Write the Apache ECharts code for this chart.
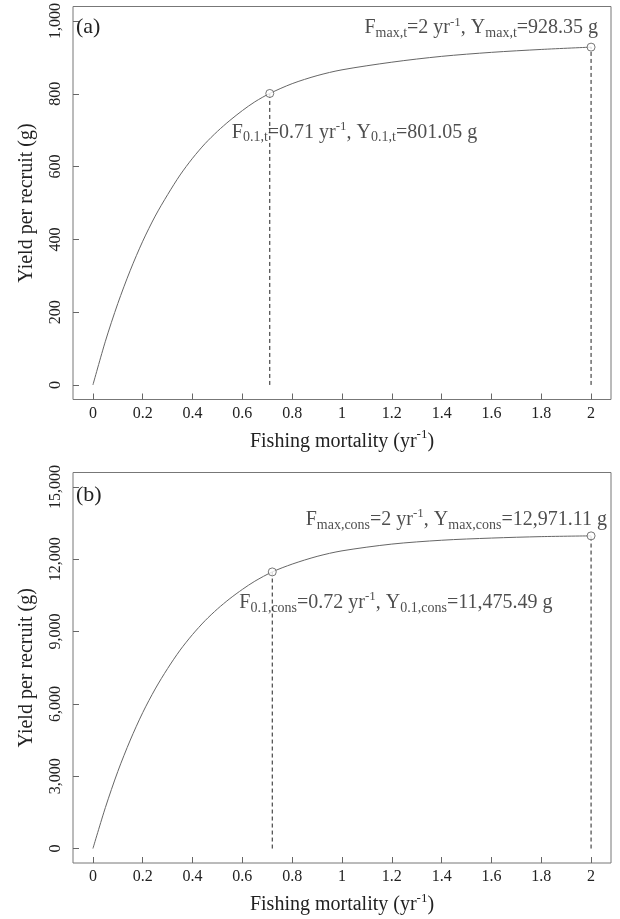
<!DOCTYPE html>
<html>
<head>
<meta charset="utf-8">
<script src="https://cdn.jsdelivr.net/npm/echarts@6/dist/echarts.min.js"></script>
<style>html,body{margin:0;padding:0;background:#fff}#c{width:620px;height:919px}</style>
</head>
<body>
<div id="c"></div>
<script>
// ---- data ----
const fishingMortality = [0, 0.05, 0.1, 0.15, 0.2, 0.25, 0.3, 0.35, 0.4, 0.45, 0.5, 0.55, 0.6, 0.65, 0.71, 0.8, 0.9, 1.0, 1.2, 1.4, 1.6, 1.8, 2.0];
const yieldA = [0, 120, 224, 315, 395, 464, 523, 577, 623, 663, 697, 727, 754, 778, 801.05, 828, 850, 866, 887, 903, 914, 922, 928.35];
const fishingMortalityB = [0, 0.05, 0.1, 0.15, 0.2, 0.25, 0.3, 0.35, 0.4, 0.45, 0.5, 0.55, 0.6, 0.65, 0.72, 0.8, 0.9, 1.0, 1.2, 1.4, 1.6, 1.8, 2.0];
const yieldB = [0, 1700, 3200, 4500, 5640, 6620, 7470, 8230, 8880, 9450, 9940, 10370, 10750, 11090, 11475.49, 11800, 12120, 12350, 12630, 12790, 12880, 12940, 12971.11];

const refA = { f01: 0.71, y01: 801.05, fmax: 2, ymax: 928.35 };
const refB = { f01: 0.72, y01: 11475.49, fmax: 2, ymax: 12971.11 };

const xTicks = [0, 0.2, 0.4, 0.6, 0.8, 1, 1.2, 1.4, 1.6, 1.8, 2];
const yTicksA = [0, 200, 400, 600, 800, 1000];
const yTicksB = [0, 3000, 6000, 9000, 12000, 15000];

const panelLabels = ['(a)', '(b)'];
const xTitle = 'Fishing mortality (yr{sup|-1})';
const yTitle = 'Yield per recruit (g)';

// ---- styling ----
const FONT = 'Liberation Serif';
const TXT = '#222';
const AX = '#666';

const rich = {
  sub: { fontFamily: FONT, fontSize: 14, lineHeight: 14, padding: [10, 0, 0, 0], color: TXT },
  sup: { fontFamily: FONT, fontSize: 13, lineHeight: 13, padding: [0, 0, 12, 0], color: TXT }
};

function fmtNum(v) {
  return Number(v).toLocaleString('en-US', { minimumFractionDigits: 2, maximumFractionDigits: 2 });
}
function xFmt(v) { return String(+Number(v).toFixed(1)); }
function yFmt(v) { return Number(v).toLocaleString('en-US'); }

function makeX(gridIndex) {
  return {
    type: 'value', gridIndex, min: -0.08, max: 2.08,
    axisLine: { show: false, onZero: false },
    axisTick: { show: true, inside: true, length: 6, lineStyle: { color: AX }, customValues: xTicks },
    axisLabel: { customValues: xTicks, formatter: xFmt, fontFamily: FONT, fontSize: 16, color: TXT, margin: 6 },
    splitLine: { show: false },
    name: xTitle, nameLocation: 'middle', nameGap: 30,
    nameTextStyle: { fontFamily: FONT, fontSize: 20, color: TXT, lineHeight: 24, rich: { sup: { fontFamily: FONT, fontSize: 13, lineHeight: 13, padding: [0, 0, 13, 0], color: TXT } } }
  };
}
function makeY(gridIndex, ticks, min, max) {
  return {
    type: 'value', gridIndex, min, max,
    axisLine: { show: false, onZero: false },
    axisTick: { show: true, inside: true, length: 6, lineStyle: { color: AX }, customValues: ticks },
    axisLabel: { customValues: ticks, formatter: yFmt, rotate: 90, fontFamily: FONT, fontSize: 16, color: TXT, margin: 9 },
    splitLine: { show: false },
    name: yTitle, nameLocation: 'middle', nameGap: 36,
    nameTextStyle: { fontFamily: FONT, fontSize: 20, color: TXT }
  };
}

function curve(xs, ys, idx) {
  return {
    type: 'line', xAxisIndex: idx, yAxisIndex: idx, smooth: 0.3, showSymbol: false, silent: true,
    data: xs.map((x, i) => [x, ys[i]]),
    lineStyle: { color: '#666', width: 1 }, z: 2
  };
}
function dashed(f, y, idx) {
  return {
    type: 'line', xAxisIndex: idx, yAxisIndex: idx, showSymbol: false, silent: true,
    data: [[f, 0], [f, y]],
    lineStyle: { color: '#222', width: 1, type: [4, 3] }, z: 1
  };
}
function markers(ref, idx, sub1, subMax, offs) {
  return {
    type: 'scatter', xAxisIndex: idx, yAxisIndex: idx, symbol: 'circle', symbolSize: 8, z: 5,
    itemStyle: { color: '#fff', borderColor: '#555', borderWidth: 1 },
    data: [
      { value: [ref.f01, ref.y01], label: { show: true, position: 'inside', align: 'left', verticalAlign: 'middle', offset: offs[0],
          formatter: 'F{sub|' + sub1 + '}=' + ref.f01 + ' yr{sup|-1}, Y{sub|' + sub1 + '}=' + fmtNum(ref.y01) + ' g' } },
      { value: [ref.fmax, ref.ymax], label: { show: true, position: 'inside', align: 'right', verticalAlign: 'middle', offset: offs[1],
          formatter: 'F{sub|' + subMax + '}=' + ref.fmax + ' yr{sup|-1}, Y{sub|' + subMax + '}=' + fmtNum(ref.ymax) + ' g' } }
    ],
    label: { fontFamily: FONT, fontSize: 20, lineHeight: 28, color: TXT, rich }
  };
}

const chart = echarts.init(document.getElementById('c'), null, { renderer: 'canvas' });
chart.setOption({
  animation: false,
  backgroundColor: '#fff',
  title: [
    { text: panelLabels[0], left: 76, top: 16, padding: 0, textStyle: { fontFamily: FONT, fontSize: 22, fontWeight: 'normal', color: TXT } },
    { text: panelLabels[1], left: 76, top: 484, padding: 0, textStyle: { fontFamily: FONT, fontSize: 22, fontWeight: 'normal', color: TXT } }
  ],
  grid: [
    { left: 73, right: 9, top: 6.5, height: 393, show: true, borderColor: '#777', borderWidth: 1, containLabel: false },
    { left: 73, right: 9, top: 472.5, height: 391, show: true, borderColor: '#777', borderWidth: 1, containLabel: false }
  ],
  xAxis: [makeX(0), makeX(1)],
  yAxis: [makeY(0, yTicksA, -40, 1040), makeY(1, yTicksB, -600, 15600)],
  series: [
    curve(fishingMortality, yieldA, 0),
    dashed(refA.f01, refA.y01, 0),
    dashed(refA.fmax, refA.ymax, 0),
    markers(refA, 0, '0.1,t', 'max,t', [[-38, 39], [7, -19]]),
    curve(fishingMortalityB, yieldB, 1),
    dashed(refB.f01, refB.y01, 1),
    dashed(refB.fmax, refB.ymax, 1),
    markers(refB, 1, '0.1,cons', 'max,cons', [[-33, 31], [16, -16]])
  ]
});
</script>
</body>
</html>
